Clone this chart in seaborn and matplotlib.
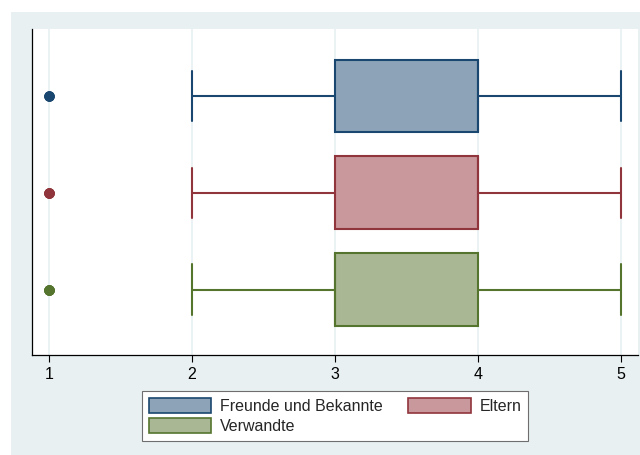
import matplotlib
matplotlib.use("Agg")
import matplotlib.pyplot as plt
from matplotlib.patches import Patch, Rectangle
import numpy as np
import pandas as pd
import seaborn as sns

# Likert answers (1-5) and number of respondents per answer and group
responses = [1, 2, 3, 4, 5]
groups = ["Freunde und Bekannte", "Eltern", "Verwandte"]
counts_freunde = [3, 12, 38, 40, 17]
counts_eltern = [4, 10, 35, 42, 19]
counts_verwandte = [5, 14, 41, 36, 14]
tick_values = [1, 2, 3, 4, 5]

fill_colors = ["#8DA3B8", "#C8989C", "#AAB795"]
edge_colors = ["#1A476F", "#90353B", "#55752F"]
BG = "#E8F0F2"

sns.set_theme(style="white")
plt.rcParams["font.family"] = ["Liberation Sans", "DejaVu Sans"]

frames = []
for g, c in zip(groups, [counts_freunde, counts_eltern, counts_verwandte]):
    frames.append(pd.DataFrame({"Gruppe": g, "Wert": np.repeat(responses, c)}))
df = pd.concat(frames, ignore_index=True)

fig = plt.figure(figsize=(6.4, 4.55), dpi=100, facecolor="white")
fig.patches.append(Rectangle((11 / 640, 0), 1, 1 - 12 / 455,
                             transform=fig.transFigure, facecolor=BG,
                             edgecolor="none", zorder=-10))
ax = fig.add_axes([32 / 640, 100 / 455, 606 / 640, 326 / 455])
ax.set_facecolor("white")

for g, fc, ec in zip(groups, fill_colors, edge_colors):
    sns.boxplot(data=df[df["Gruppe"] == g], x="Wert", y="Gruppe", order=groups,
                orient="h", color=fc, linecolor=ec, saturation=1, width=0.75,
                linewidth=1.5, whis=1.5, fliersize=6.5, capwidths=0.52,
                flierprops=dict(marker="o", markerfacecolor=ec,
                                markeredgecolor=ec),
                ax=ax)

ax.set_xlim(0.881, 5.119)
ax.set_ylim(2.677, -0.693)
ax.set_xticks(tick_values)
ax.set_xticklabels([str(v) for v in tick_values], fontsize=11.5)
ax.set_yticks([])
ax.set_xlabel("")
ax.set_ylabel("")
ax.xaxis.grid(True, color=BG, linewidth=1.2)
ax.yaxis.grid(False)
ax.set_axisbelow(True)
ax.tick_params(axis="x", bottom=True, length=4.8, width=0.8, color="black",
               pad=4, labelcolor="black")
for side in ["top", "right"]:
    ax.spines[side].set_visible(False)
for side in ["left", "bottom"]:
    ax.spines[side].set_visible(True)
    ax.spines[side].set_color("black")
    ax.spines[side].set_linewidth(0.9)

handles = [Patch(facecolor=fc, edgecolor=ec, linewidth=1.2, label=g)
           for g, fc, ec in zip(groups, fill_colors, edge_colors)]
# column-major filling: first column gets entries 0 and 2
order = [0, 2, 1]
leg = fig.legend(handles=[handles[i] for i in order], ncol=2, loc="center",
                 bbox_to_anchor=(335 / 640, 1 - 416 / 455),
                 frameon=True, fancybox=False, edgecolor="#6E6E6E",
                 facecolor="white", framealpha=1, fontsize=11.5,
                 handlelength=3.9, handleheight=1.06, handletextpad=0.56,
                 columnspacing=1.6, labelspacing=0.31, borderpad=0.44)
leg.get_frame().set_linewidth(0.8)

fig.savefig("out.png", dpi=100)
